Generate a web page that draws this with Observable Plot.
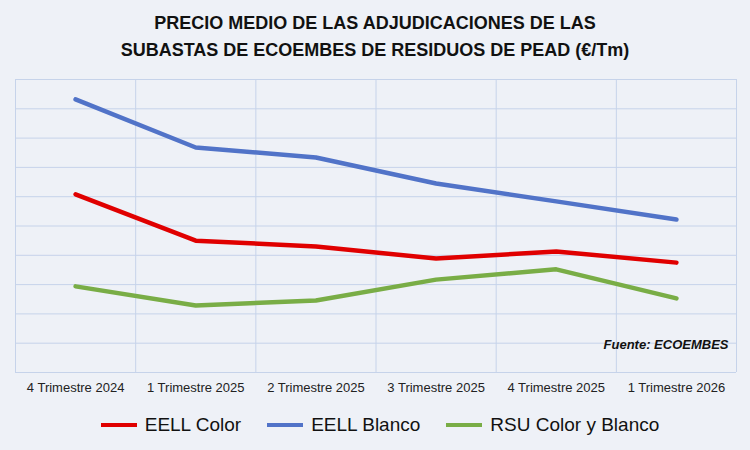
<!DOCTYPE html>
<html><head><meta charset="utf-8">
<script src="https://cdn.jsdelivr.net/npm/d3@7"></script>
<script src="https://cdn.jsdelivr.net/npm/@observablehq/plot@0.6"></script>
<style>
body{margin:0;background:#fff;font-family:"Liberation Sans",Arial,sans-serif;}
#wrap{width:750px;height:450px;background:#eef1f7;}
#title{height:70px;box-sizing:border-box;padding-top:10px;text-align:center;font-weight:bold;font-size:18px;line-height:27px;color:#111;}
#legend{height:50px;display:flex;justify-content:center;align-items:center;gap:26px;font-size:19px;color:#111;padding-left:10px}
.li{display:flex;align-items:center;gap:8px}
.sw{width:36px;height:4px}
</style></head><body>
<div id="wrap">
<div id="title">PRECIO MEDIO DE LAS ADJUDICACIONES DE LAS<br>SUBASTAS DE ECOEMBES DE RESIDUOS DE PEAD (€/Tm)</div>
<div id="chart"></div>
<div id="legend"></div>
</div>
<script>
const categories=["4 Trimestre 2024","1 Trimestre 2025","2 Trimestre 2025","3 Trimestre 2025","4 Trimestre 2025","1 Trimestre 2026"];
const seriesNames=["EELL Color","EELL Blanco","RSU Color y Blanco"];
const eellColor=[608,450,430,389,413,375];
const eellBlanco=[932,768,734,645,584,522];
const rsu=[294,229,246,317,352,253];
const colors=["#e00000","#5173c8","#79ad46"];
const gridY=[0,100,200,300,400,500,600,700,800,900,1000];
const data=[];
[eellColor,eellBlanco,rsu].forEach((arr,s)=>arr.forEach((v,i)=>data.push({s:seriesNames[s],i,v})));
const chart=Plot.plot({
  width:750,height:330,marginLeft:15,marginRight:14,marginTop:9,marginBottom:28,
  style:{background:"transparent",fontFamily:"Liberation Sans, Arial, sans-serif",fontSize:"13px",color:"#222"},
  x:{domain:[-0.5,5.5],ticks:[0,1,2,3,4,5],tickFormat:i=>categories[i],tickSize:0,label:null,tickPadding:10},
  y:{domain:[0,1000],axis:null},
  color:{domain:seriesNames,range:colors},
  marks:[
    Plot.ruleY(gridY,{stroke:"#c6d3ea",strokeWidth:1}),
    Plot.ruleX([-0.5,0.5,1.5,2.5,3.5,4.5,5.5],{stroke:"#c6d3ea",strokeWidth:1}),
    Plot.line(data,{x:"i",y:"v",z:"s",stroke:"s",strokeWidth:4.5}),
    Plot.text(["Fuente: ECOEMBES"],{x:5.5,y:95,text:d=>d,textAnchor:"end",dx:-8,fontWeight:"bold",fontStyle:"italic",fontSize:13,fill:"#111"})
  ]
});
document.getElementById("chart").appendChild(chart);
const lg=document.getElementById("legend");
seriesNames.forEach((n,k)=>{const d=document.createElement("div");d.className="li";d.innerHTML=`<span class="sw" style="background:${colors[k]}"></span>${n}`;lg.appendChild(d);});
</script>
</body></html>
